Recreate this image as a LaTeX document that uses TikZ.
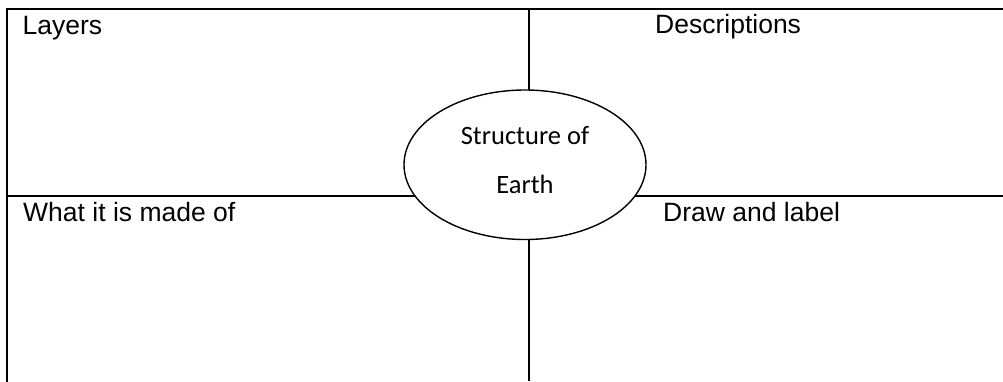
\documentclass[tikz,border=0pt]{standalone}
\usepackage{fontspec}
\usetikzlibrary{shapes.geometric}
\setmainfont{Liberation Sans}
\newfontfamily\calib{Carlito}
\begin{document}
\begin{tikzpicture}[x=1pt,y=-1pt,
  frame/.style={line width=2pt},
  lbl/.style={anchor=base west,inner sep=0pt,font=\fontsize{26.5}{30}\selectfont},
  hubtxt/.style={anchor=base,inner sep=0pt,font=\calib\fontsize{26.5}{30}\selectfont},
  hub/.style={draw,ellipse,line width=1.4pt,fill=white,minimum width=242pt,minimum height=149.5pt,inner sep=0pt}]
\useasboundingbox (0,0) rectangle (1003,381);
\coordinate (tl) at (7,8.5);
\coordinate (tr) at (1003,8.5);
\coordinate (bl) at (7,381);
\coordinate (tm) at (529,8.5);
\coordinate (bm) at (529,381);
\coordinate (ml) at (7,196);
\coordinate (mr) at (1003,196);
\draw[frame,line cap=rect] (bl) -- (tl) -- (tr);
\draw[frame] (tm) -- (bm);
\draw[frame] (ml) -- (mr);
\node[hub] (earth) at (525,164.75) {};
\node[hubtxt] (t1) at (525,144) {Structure of};
\node[hubtxt] (t2) at (525,193) {Earth};
\node[lbl] (layers) at (22.5,34) {Layers};
\node[lbl] (desc) at (655,33.5) {Descriptions};
\node[lbl] (made) at (23,221) {What it is made of};
\node[lbl] (draw) at (663,221) {Draw and label};
\end{tikzpicture}
\end{document}
